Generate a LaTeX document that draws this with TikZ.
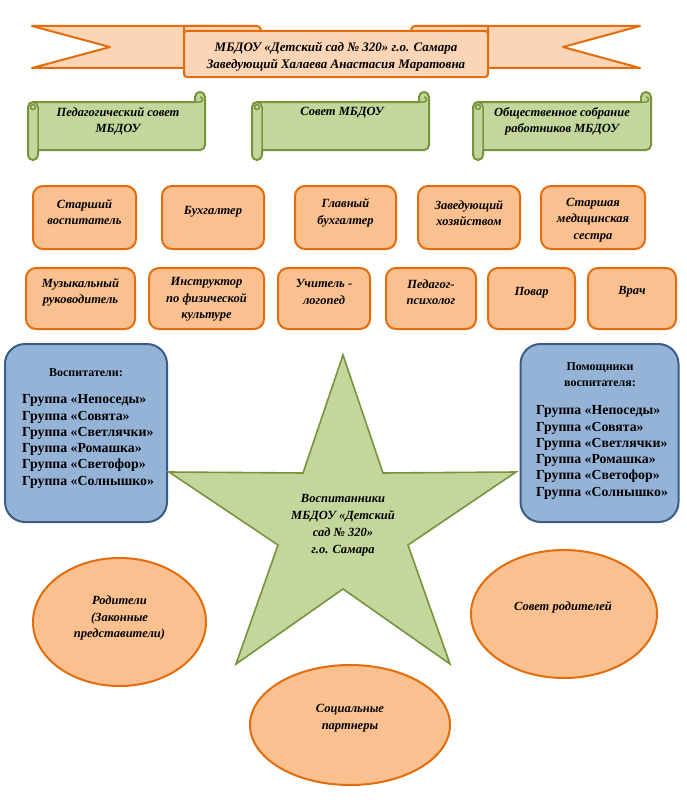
\documentclass[tikz,border=0pt]{standalone}
\usepackage{fontspec}
\setmainfont{Liberation Serif}
\usetikzlibrary{shapes.geometric}

\definecolor{peach}{HTML}{FAC090}
\definecolor{peachlight}{HTML}{FBD5B5}
\definecolor{orangeline}{HTML}{E46C0A}
\definecolor{olivefill}{HTML}{C3D69B}
\definecolor{oliveline}{HTML}{77933C}
\definecolor{bluefill}{HTML}{95B3D7}
\definecolor{blueline}{HTML}{385D8A}

% horizontal scroll: #1,#2 = top left, #3,#4 = bottom right
\newcommand\scrollshape[4]{%
  \draw[scrollbody] (#1,#2+15) arc[start angle=180,end angle=90,radius=5pt]
    -- (#3-10,#2+10) -- (#3-10,#2+5) arc[start angle=180,end angle=0,radius=5pt]
    -- (#3,#4-15) arc[start angle=0,end angle=-90,radius=5pt]
    -- (#1+10,#4-10) -- (#1+10,#4-5) arc[start angle=0,end angle=-180,radius=5pt]
    -- cycle;
  \draw[scrollline] (#1+10,#4-10) -- (#1+10,#2+15) arc[start angle=0,end angle=90,radius=5pt];
  \draw[scrollline] (#1+5,#2+15) circle[radius=2.5pt];
  \draw[scrollline] (#3-10,#2+10) -- (#3-5,#2+10) arc[start angle=-90,end angle=90,radius=2.5pt];
}

\begin{document}
\begin{tikzpicture}[x=1pt,y=-1pt,
  ribbon/.style={draw=orangeline, fill=peachlight, line width=2pt, line join=round},
  staff/.style={draw=orangeline, fill=peach, line width=2pt, rounded corners=10pt, inner sep=0pt},
  oval/.style={ellipse, draw=orangeline, fill=peach, line width=2pt, inner sep=0pt},
  group/.style={draw=blueline, fill=bluefill, line width=2pt, rounded corners=20pt, inner sep=0pt},
  scrollbody/.style={draw=oliveline, fill=olivefill, line width=2pt, line join=round},
  scrollline/.style={draw=oliveline, line width=1.5pt},
  starshape/.style={draw=oliveline, fill=olivefill, line width=1.6pt, line join=miter},
  lbl/.style={font=\fontsize{12.5}{16.5}\selectfont\bfseries\itshape, align=center, inner sep=0pt},
  title/.style={font=\fontsize{13}{17}\selectfont\bfseries\itshape, align=center, inner sep=0pt},
  grouptxt/.style={font=\fontsize{13.8}{16.3}\selectfont\bfseries, align=left, inner sep=0pt},
  grouphead/.style={font=\fontsize{12}{16.3}\selectfont\bfseries, align=center, inner sep=0pt}]
\useasboundingbox (0,0) rectangle (686,800);

% ---------- head ribbon ----------
\draw[ribbon] (32,26) -- (215,26) -- (215,68) -- (32,68) -- (110,47) -- cycle;
\draw[ribbon] (640,26) -- (457,26) -- (457,68) -- (640,68) -- (563,47) -- cycle;
\draw[ribbon] (184,34) -- (184,26) -- (257,26) arc[start angle=90,end angle=-90,radius=4pt] -- (184,34);
\draw[ribbon] (488,34) -- (488,26) -- (415,26) arc[start angle=90,end angle=270,radius=4pt] -- (488,34);
\draw[ribbon, rounded corners=3pt] (184,31) rectangle (488,77);
\node[title] (head) at (336,56.5) {МБДОУ «Детский сад № 320» г.о. Самара\\Заведующий Халаева Анастасия Маратовна};

% ---------- councils ----------
\scrollshape{28}{92}{205}{160}
\scrollshape{252}{92}{429}{160}
\scrollshape{473}{92}{651}{160}
\node[lbl] (council1) at (118,121.5) {Педагогический совет\\МБДОУ};
\node[lbl] (council2) at (342,113) {Совет МБДОУ};
\node[lbl] (council3) at (562,121.5) {Общественное собрание\\работников МБДОУ};

% ---------- staff, first row ----------
\node[staff, minimum width=103pt, minimum height=63pt] (b1) at (84.5,217.5) {};
\node[staff, minimum width=102pt, minimum height=63pt] (b2) at (213,217.5) {};
\node[staff, minimum width=101pt, minimum height=63pt] (b3) at (345.5,217.5) {};
\node[staff, minimum width=102pt, minimum height=63pt] (b4) at (469,217.5) {};
\node[staff, minimum width=104pt, minimum height=63pt] (b5) at (593,217.5) {};
\node[lbl] (t1) at (84.5,212) {Старший\\воспитатель};
\node[lbl] (t2) at (213,212) {Бухгалтер};
\node[lbl] (t3) at (345.5,213) {Главный\\бухгалтер};
\node[lbl] (t4) at (469,213) {Заведующий\\хозяйством};
\node[lbl] (t5) at (593,220) {Старшая\\медицинская\\сестра};

% ---------- staff, second row ----------
\node[staff, minimum width=109pt, minimum height=61pt] (c1) at (80.5,298.5) {};
\node[staff, minimum width=115pt, minimum height=61pt] (c2) at (206.5,298.5) {};
\node[staff, minimum width=92pt, minimum height=61pt] (c3) at (324,298.5) {};
\node[staff, minimum width=90pt, minimum height=61pt] (c4) at (431,298.5) {};
\node[staff, minimum width=87pt, minimum height=61pt] (c5) at (531.5,298.5) {};
\node[staff, minimum width=88pt, minimum height=61pt] (c6) at (632,298.5) {};
\node[lbl] (u1) at (80.5,292.5) {Музыкальный\\руководитель};
\node[lbl] (u2) at (206.5,299.5) {Инструктор\\по физической\\культуре};
\node[lbl] (u3) at (324,292) {Учитель -\\логопед};
\node[lbl] (u4) at (431,292) {Педагог-\\психолог};
\node[lbl] (u5) at (531.5,293) {Повар};
\node[lbl] (u6) at (632,292) {Врач};

% ---------- groups ----------
\node[group, minimum width=162pt, minimum height=178pt] (teachers) at (86,433) {};
\node[group, minimum width=158pt, minimum height=178pt] (helpers) at (599.5,433) {};
\node[grouphead] (teachershead) at (86,373) {Воспитатели:};
\node[grouptxt, anchor=north west] (teacherslist) at (22,394.5) {Группа «Непоседы»\\Группа «Совята»\\Группа «Светлячки»\\Группа «Ромашка»\\Группа «Светофор»\\Группа «Солнышко»};
\node[grouphead] (helpershead) at (600,375) {Помощники\\воспитателя:};
\node[grouptxt, anchor=north west] (helperslist) at (536,405.5) {Группа «Непоседы»\\Группа «Совята»\\Группа «Светлячки»\\Группа «Ромашка»\\Группа «Светофор»\\Группа «Солнышко»};

% ---------- star ----------
\draw[starshape] (343,355) -- (383,473) -- (516,472) -- (408,545) -- (450,664)
  -- (343,589) -- (236,664) -- (278,545) -- (169,472) -- (303,473) -- cycle;
\node[lbl, font=\fontsize{12.5}{17}\selectfont\bfseries\itshape] (pupils) at (343,525.5) {Воспитанники\\МБДОУ «Детский\\сад № 320»\\г.о. Самара};

% ---------- ovals ----------
\node[oval, minimum width=173pt, minimum height=128pt] (parents) at (119.5,622) {};
\node[oval, minimum width=186pt, minimum height=128pt] (pcouncil) at (564,614) {};
\node[oval, minimum width=200pt, minimum height=120pt] (partners) at (350,725) {};
\node[lbl] (parentstxt) at (119.5,618) {Родители\\(Законные\\представители)};
\node[lbl] (pcounciltxt) at (563,607) {Совет родителей};
\node[lbl] (partnerstxt) at (350,718) {Социальные\\партнеры};
\end{tikzpicture}
\end{document}
